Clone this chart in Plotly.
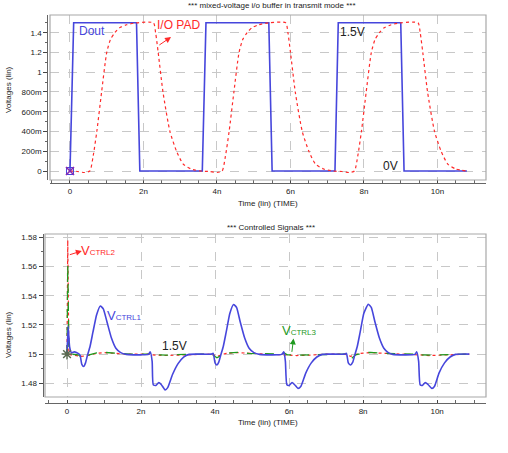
import plotly.graph_objects as go

W, H = 508, 453

# ---------------- data (time in ns) ----------------
dout_t = [0, 0.1, 1.81, 1.9, 3.6, 3.7, 5.41, 5.5, 7.21, 7.3, 9.0, 9.09, 10.8]
dout_v = [0, 1.5, 1.5, 0, 0, 1.5, 1.5, 0, 0, 1.5, 1.5, 0, 0]

pad_t = [0, 0.2, 0.4, 0.54, 0.63, 0.73, 0.86, 1.0, 1.1, 1.22, 1.35, 1.54, 1.8,
         2.27, 2.33, 2.4, 2.53, 2.72, 2.9, 3.08, 3.3, 3.55,
         3.8, 4.0, 4.14, 4.23, 4.33, 4.46, 4.6, 4.7, 4.82, 4.95, 5.14, 5.4,
         5.87, 5.93, 6.0, 6.13, 6.32, 6.5, 6.68, 6.9, 7.15,
         7.4, 7.6, 7.74, 7.83, 7.93, 8.06, 8.2, 8.3, 8.42, 8.55, 8.74, 9.0,
         9.47, 9.53, 9.6, 9.73, 9.92, 10.1, 10.28, 10.5, 10.8]
pad_v = [0, -0.005, -0.015, 0, 0.15, 0.4, 0.8, 1.2, 1.33, 1.4, 1.45, 1.48, 1.5,
         1.5, 1.4, 1.2, 0.8, 0.4, 0.2, 0.07, 0.02, 0.0,
         -0.005, -0.015, 0, 0.15, 0.4, 0.8, 1.2, 1.33, 1.4, 1.45, 1.48, 1.5,
         1.5, 1.4, 1.2, 0.8, 0.4, 0.2, 0.07, 0.02, 0.0,
         -0.005, -0.015, 0, 0.15, 0.4, 0.8, 1.2, 1.33, 1.4, 1.45, 1.48, 1.5,
         1.5, 1.4, 1.2, 0.8, 0.4, 0.2, 0.07, 0.02, 0.0]

c1_t = [0, 0.03, 0.07, 0.12, 0.2, 0.3, 0.35, 0.4, 0.45, 0.5, 0.55, 0.62, 0.7, 0.8, 0.9, 0.98,
        1.08, 1.2, 1.32, 1.45, 1.6, 1.8, 2.0, 2.2, 2.25, 2.3, 2.33, 2.4, 2.48, 2.55, 2.65,
        2.72, 2.85, 3.0, 3.15, 3.3, 3.5, 3.9,
        3.95, 4.0, 4.05, 4.1, 4.15, 4.22, 4.3, 4.4, 4.5, 4.58, 4.68, 4.8, 4.92, 5.05, 5.2,
        5.5, 5.8, 5.86, 5.9, 5.94, 6.0, 6.08, 6.15, 6.24, 6.32, 6.45, 6.6, 6.75, 6.9, 7.1, 7.5,
        7.55, 7.6, 7.66, 7.72, 7.77, 7.84, 7.92, 8.02, 8.14, 8.22, 8.32, 8.44, 8.56, 8.68, 8.8,
        9.1, 9.4, 9.45, 9.5, 9.54, 9.6, 9.68, 9.76, 9.86, 9.93, 10.05, 10.2, 10.35, 10.5, 10.87]
c1_v = [1.5, 1.519, 1.505, 1.501, 1.5015, 1.5005, 1.4995, 1.493, 1.4915, 1.494, 1.499, 1.505,
        1.515, 1.527, 1.533, 1.531, 1.522, 1.511, 1.504, 1.501, 1.4998, 1.4995, 1.4995, 1.4998,
        1.5015, 1.495, 1.479, 1.4785, 1.4805, 1.479, 1.4755, 1.477, 1.486, 1.4935, 1.498,
        1.4998, 1.5, 1.5,
        1.5005, 1.494, 1.4925, 1.4945, 1.499, 1.505, 1.515, 1.528, 1.534, 1.532, 1.522, 1.511,
        1.504, 1.501, 1.4998, 1.4995, 1.4998, 1.5015, 1.495, 1.479, 1.4785, 1.4805, 1.479,
        1.4765, 1.478, 1.487, 1.494, 1.498, 1.4998, 1.5, 1.5,
        1.5005, 1.494, 1.4925, 1.4945, 1.499, 1.505, 1.515, 1.528, 1.5342, 1.532, 1.522, 1.511,
        1.504, 1.501, 1.4998, 1.4995, 1.4998, 1.5015, 1.495, 1.479, 1.4785, 1.4805, 1.479,
        1.4765, 1.478, 1.487, 1.494, 1.498, 1.4998, 1.5]

c2_t = [0, 0.02, 0.05, 0.1, 0.4, 0.55, 0.8, 1.0, 1.3, 1.7, 2.2, 2.3, 2.6, 3.0, 3.4, 3.9,
        4.05, 4.3, 4.6, 5.0, 5.8, 5.9, 6.2, 6.6, 7.0, 7.5, 7.66, 7.9, 8.2, 8.6, 9.4, 9.5,
        9.8, 10.2, 10.87]
c2_v = [1.5, 1.578, 1.5, 1.4995, 1.4985, 1.499, 1.5005, 1.501, 1.5005, 1.5, 1.5, 1.4995,
        1.499, 1.4993, 1.5, 1.5, 1.4985, 1.5005, 1.501, 1.5005, 1.5, 1.4995, 1.499, 1.4993,
        1.5, 1.5, 1.4985, 1.5005, 1.501, 1.5005, 1.5, 1.4995, 1.499, 1.4993, 1.5]

c3_t = [0, 0.02, 0.05, 0.1, 0.3, 0.45, 0.6, 0.8, 1.0, 1.3, 1.7, 2.2, 2.27, 2.35, 2.7, 3.2,
        3.9, 4.05, 4.2, 4.4, 4.6, 4.9, 5.8, 5.87, 5.95, 6.3, 6.8, 7.5, 7.66, 7.8, 8.0, 8.2,
        8.5, 9.4, 9.47, 9.55, 9.9, 10.4, 10.87]
c3_v = [1.5, 1.561, 1.505, 1.5, 1.4995, 1.497, 1.4995, 1.5008, 1.5012, 1.5005, 1.5, 1.5,
        1.5008, 1.4995, 1.4993, 1.4998, 1.5, 1.4975, 1.4995, 1.5008, 1.5012, 1.5005, 1.5,
        1.5008, 1.4995, 1.4993, 1.4998, 1.5, 1.4965, 1.4995, 1.5008, 1.5012, 1.5005, 1.5,
        1.5008, 1.4995, 1.4993, 1.4998, 1.5]

x_tickvals = [0, 2, 4, 6, 8, 10]
x_ticktext = ["0", "2n", "4n", "6n", "8n", "10n"]
top_tickvals = [0, 0.2, 0.4, 0.6, 0.8, 1.0, 1.2, 1.4]
top_ticktext = ["0", "200m", "400m", "600m", "800m", "1", "1.2", "1.4"]
bot_tickvals = [1.48, 1.5, 1.52, 1.54, 1.56, 1.58]
bot_ticktext = ["1.48", "15", "1.52", "1.54", "1.56", "1.58"]

BLUE = "#4646dc"
RED = "#ff2a2a"
GREEN = "#1f9a1f"
FONT = "Liberation Sans, Arial, sans-serif"

fig = go.Figure()

# top panel
fig.add_trace(go.Scatter(x=dout_t, y=dout_v, mode="lines", line=dict(color=BLUE, width=1.6),
                         xaxis="x", yaxis="y"))
fig.add_trace(go.Scatter(x=pad_t, y=pad_v, mode="lines",
                         line=dict(color=RED, width=1.2, dash="dot", shape="spline", smoothing=0.6),
                         xaxis="x", yaxis="y"))
fig.add_trace(go.Scatter(x=[0], y=[0], mode="markers",
                         marker=dict(symbol="square-open", size=7, color=BLUE,
                                     line=dict(width=1, color=BLUE)),
                         xaxis="x", yaxis="y"))
fig.add_trace(go.Scatter(x=[0], y=[0], mode="markers",
                         marker=dict(symbol="x-thin-open", size=8, color="#8a2ab0",
                                     line=dict(width=1.6, color="#8a2ab0")),
                         xaxis="x", yaxis="y"))

# bottom panel
fig.add_trace(go.Scatter(x=c2_t, y=c2_v, mode="lines",
                         line=dict(color=RED, width=1.2, dash="dot"),
                         xaxis="x2", yaxis="y2"))
fig.add_trace(go.Scatter(x=c3_t, y=c3_v, mode="lines",
                         line=dict(color=GREEN, width=1.3, dash="dash"),
                         xaxis="x2", yaxis="y2"))
fig.add_trace(go.Scatter(x=c1_t, y=c1_v, mode="lines",
                         line=dict(color=BLUE, width=1.6, shape="spline", smoothing=0.5),
                         xaxis="x2", yaxis="y2"))
fig.add_trace(go.Scatter(x=[0], y=[1.5], mode="markers",
                         marker=dict(symbol="asterisk-open", size=9, color="#5a6a50",
                                     line=dict(width=1.5, color="#5a6a50")),
                         xaxis="x2", yaxis="y2"))

axfont = dict(family=FONT, size=8, color="#222222")
common_x = dict(tickvals=x_tickvals, ticktext=x_ticktext, ticks="inside", ticklen=3,
                tickcolor="#444", showline=True, linecolor="#666", linewidth=1,
                showgrid=True, gridcolor="#c8c8c8", griddash="dash", gridwidth=1,
                zeroline=False, tickfont=axfont,
                minor=dict(dtick=0.5, ticks="inside", ticklen=3, tickcolor="#666", showgrid=False))

fig.update_layout(
    width=W, height=H, margin=dict(l=0, r=0, t=0, b=0),
    paper_bgcolor="white", plot_bgcolor="white", showlegend=False,
    xaxis=dict(domain=[50 / W, 486 / W], range=[-0.544, 11.32], anchor="free",
               position=1 - 183.3 / H, **common_x),
    yaxis=dict(domain=[1 - 180 / H, 1 - 15 / H], range=[-0.091, 1.579], anchor="free",
               position=47.2 / W, tickvals=top_tickvals, ticktext=top_ticktext,
               ticks="outside", ticklen=4, tickcolor="#444", showline=True, linecolor="#666",
               showgrid=True, gridcolor="#c8c8c8", griddash="dash", zeroline=False,
               tickfont=axfont,
               minor=dict(dtick=0.1, ticks="outside", ticklen=2, tickcolor="#666", showgrid=False)),
    xaxis2=dict(domain=[45 / W, 486 / W], range=[-0.595, 11.32], anchor="free",
                position=1 - 403 / H, **common_x),
    yaxis2=dict(domain=[1 - 397 / H, 1 - 234 / H], range=[1.4706, 1.5823], anchor="free",
                position=42.5 / W, tickvals=bot_tickvals, ticktext=bot_ticktext,
                ticks="outside", ticklen=4, tickcolor="#444", showline=True, linecolor="#666",
                showgrid=True, gridcolor="#c8c8c8", griddash="dash", zeroline=False,
                tickfont=axfont,
                minor=dict(dtick=0.01, ticks="outside", ticklen=2, tickcolor="#666", showgrid=False)),
)

# plot boxes
fig.add_shape(type="rect", xref="paper", yref="paper", x0=50 / W, x1=486 / W,
              y0=1 - 180 / H, y1=1 - 15 / H, line=dict(color="#a8a8a8", width=1.2), layer="above")
fig.add_shape(type="rect", xref="paper", yref="paper", x0=45 / W, x1=486 / W,
              y0=1 - 397 / H, y1=1 - 234 / H, line=dict(color="#a8a8a8", width=1.2), layer="above")

def ptxt(text, px, py, size=8, angle=0, color="#222222"):
    fig.add_annotation(text=text, x=px / W, y=1 - py / H, xref="paper", yref="paper",
                       showarrow=False, textangle=angle, xanchor="center", yanchor="middle",
                       font=dict(family=FONT, size=size, color=color))

ptxt("*** mixed-voltage i/o buffer in transmit mode ***", 272, 6)
ptxt("Time (lin) (TIME)", 268, 203)
ptxt("Voltages (lin)", 8, 90, angle=-90)
ptxt("*** Controlled Signals ***", 271, 227)
ptxt("Time (lin) (TIME)", 268, 422)
ptxt("Voltages (lin)", 8, 335, angle=-90)

def dtxt(text, x, y, color, xr="x", yr="y", size=12):
    fig.add_annotation(text=text, x=x, y=y, xref=xr, yref=yr, showarrow=False,
                       xanchor="center", yanchor="middle",
                       font=dict(family=FONT, size=size, color=color))

def vsub(s):
    return "V<span style='font-size:8px'>" + s + "</span>"

dtxt("Dout", 0.61, 1.42, BLUE)
dtxt("I/O PAD", 2.94, 1.478, RED)
dtxt("1.5V", 7.68, 1.404, "#222222")
dtxt("0V", 8.73, 0.054, "#222222")
fig.add_annotation(x=2.75, y=1.356, ax=2.39, ay=1.265, xref="x", yref="y", axref="x", ayref="y",
                   showarrow=True, arrowhead=2, arrowsize=1.2, arrowwidth=1, arrowcolor=RED, text="")

dtxt(vsub("CTRL2"), 0.84, 1.5712, RED, "x2", "y2", size=13)
dtxt(vsub("CTRL1"), 1.54, 1.5267, BLUE, "x2", "y2", size=13)
dtxt("1.5V", 2.9, 1.5055, "#222222", "x2", "y2")
dtxt(vsub("CTRL3"), 6.28, 1.5164, GREEN, "x2", "y2", size=13)
fig.add_annotation(x=0.40, y=1.5707, ax=0.035, ay=1.5678, xref="x2", yref="y2", axref="x2", ayref="y2",
                   showarrow=True, arrowhead=2, arrowsize=1.2, arrowwidth=1, arrowcolor=RED, text="")
fig.add_annotation(x=6.12, y=1.5107, ax=6.07, ay=1.5005, xref="x2", yref="y2", axref="x2", ayref="y2",
                   showarrow=True, arrowhead=2, arrowsize=1.2, arrowwidth=1, arrowcolor=GREEN, text="")

fig.write_html("out.html")
